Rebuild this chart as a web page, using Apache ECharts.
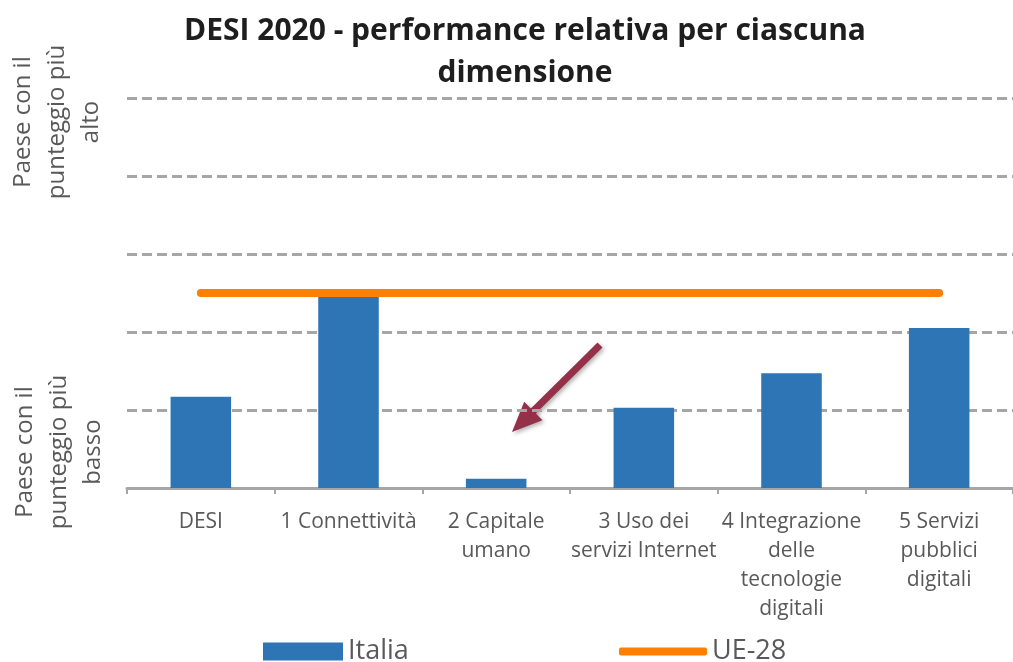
<!DOCTYPE html>
<html>
<head>
<meta charset="utf-8">
<script src="https://cdn.jsdelivr.net/npm/echarts@6/dist/echarts.min.js"></script>
<style>
  html, body { margin: 0; padding: 0; background: #fff; }
  #chart { width: 1013px; height: 662px; }
</style>
</head>
<body>
<div id="chart"></div>
<script>
// categorie (dimensioni DESI)
var categories = ['DESI', '1 Connettività', '2 Capitale\numano', '3 Uso dei\nservizi Internet',
  '4 Integrazione\ndelle\ntecnologie\ndigitali', '5 Servizi\npubblici\ndigitali'];
// Italia - posizione relativa (0 = paese più basso, 5 = paese più alto)
var italiaValues = [1.17, 2.46, 0.12, 1.03, 1.47, 2.05];
// media UE-28
var ueValues = [2.5, 2.5, 2.5, 2.5, 2.5, 2.5];

var font = '"Open Sans", "Liberation Sans", sans-serif';
var grey = '#A6A6A6';
var labelColor = '#595959';
var orange = '#FF8000';

var myChart = echarts.init(document.getElementById('chart'));

// freccia (annotazione)
var tail = [600, 345], tip = [512, 432];
var dx = tip[0] - tail[0], dy = tip[1] - tail[1];
var len = Math.sqrt(dx * dx + dy * dy);
var ux = dx / len, uy = dy / len;
var headLen = 30, headHalf = 13;
var base = [tip[0] - ux * headLen, tip[1] - uy * headLen];
var arrowColor = '#943048';

var option = {
  animation: false,
  title: {
    text: 'DESI 2020 - performance relativa per ciascuna\ndimensione',
    left: 520,
    textAlign: 'center',
    top: 5,
    textStyle: {
      fontFamily: font,
      fontSize: 30,
      fontWeight: 'bold',
      color: '#1e1e1e',
      lineHeight: 42
    }
  },
  legend: [
    {
      data: [{name: 'Italia', icon: 'rect'}],
      left: 258,
      top: 633,
      itemWidth: 80,
      itemHeight: 18,
      itemGap: 6,
      textStyle: {fontFamily: font, fontSize: 27, color: labelColor, padding: [0, 0, 0, 0]}
    },
    {
      data: [{name: 'UE-28', icon: 'roundRect', itemStyle: {color: orange}}],
      left: 614,
      top: 633,
      itemWidth: 88,
      itemHeight: 8,
      textStyle: {fontFamily: font, fontSize: 27, color: labelColor}
    }
  ],
  grid: {
    left: 127,
    right: 0,
    top: 98,
    bottom: 174,
    containLabel: false
  },
  xAxis: {
    type: 'category',
    data: categories,
    axisLine: {lineStyle: {color: grey, width: 3}},
    axisTick: {show: true, alignWithLabel: false, length: 6, lineStyle: {color: grey, width: 2}},
    axisLabel: {
      interval: 0,
      margin: 20,
      fontFamily: font,
      fontSize: 21,
      lineHeight: 29,
      color: labelColor
    }
  },
  yAxis: {
    type: 'value',
    min: 0,
    max: 5,
    interval: 1,
    axisLabel: {show: false},
    axisLine: {show: false},
    axisTick: {show: false},
    splitLine: {lineStyle: {color: grey, width: 3, type: [10, 5]}}
  },
  series: [
    {
      name: 'Italia',
      type: 'bar',
      barWidth: '41%',
      itemStyle: {color: '#2E75B6'},
      data: italiaValues
    },
    {
      name: 'UE-28',
      type: 'line',
      symbol: 'none',
      z: 5,
      lineStyle: {color: orange, width: 8, cap: 'round'},
      itemStyle: {color: orange},
      data: ueValues
    }
  ],
  graphic: [
    {
      type: 'text',
      x: 57, y: 122,
      rotation: Math.PI / 2,
      style: {
        text: 'Paese con il\npunteggio più\nalto',
        fontFamily: font, fontSize: 24, lineHeight: 34,
        fill: labelColor, align: 'center', verticalAlign: 'middle'
      }
    },
    {
      type: 'text',
      x: 59, y: 452,
      rotation: Math.PI / 2,
      style: {
        text: 'Paese con il\npunteggio più\nbasso',
        fontFamily: font, fontSize: 24, lineHeight: 34,
        fill: labelColor, align: 'center', verticalAlign: 'middle'
      }
    },
    {
      type: 'group',
      z: 100,
      children: [
        {
          type: 'line',
          shape: {x1: tail[0], y1: tail[1], x2: base[0] + ux * 4, y2: base[1] + uy * 4},
          style: {stroke: arrowColor, lineWidth: 7, shadowBlur: 4, shadowColor: 'rgba(0,0,0,0.3)', shadowOffsetX: 2, shadowOffsetY: 2}
        },
        {
          type: 'polygon',
          shape: {points: [
            tip,
            [base[0] + uy * headHalf, base[1] - ux * headHalf],
            [base[0] - uy * headHalf, base[1] + ux * headHalf]
          ]},
          style: {fill: arrowColor, shadowBlur: 4, shadowColor: 'rgba(0,0,0,0.3)', shadowOffsetX: 2, shadowOffsetY: 2}
        }
      ]
    }
  ]
};

myChart.setOption(option);
</script>
</body>
</html>
